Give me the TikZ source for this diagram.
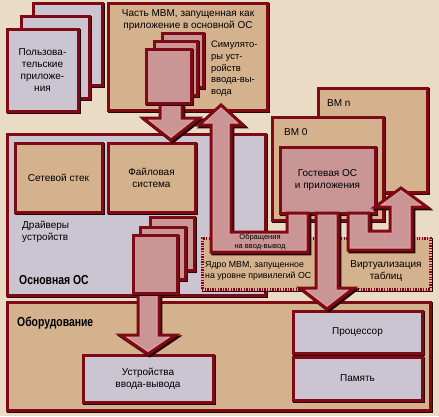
\documentclass[tikz,border=0pt]{standalone}
\usepackage{fontspec}
\setmainfont{Liberation Sans}
\newfontfamily\condb[FakeStretch=0.8]{Liberation Sans Bold}
\usetikzlibrary{shadows}
\definecolor{bgc}{HTML}{EADBC4}
\definecolor{tanc}{HTML}{D5B28E}
\definecolor{lavc}{HTML}{CBC4D1}
\definecolor{pinkf}{HTML}{C99595}
\definecolor{darkr}{HTML}{7D0A14}
\definecolor{pinkl}{HTML}{E8A6A6}
\definecolor{shadowc}{HTML}{2A0505}
\tikzset{
  shd/.style={drop shadow={shadow xshift=1.8pt, shadow yshift=-1.8pt, fill=shadowc, draw=shadowc, line width=3pt, opacity=1}},
  bx/.style={draw=darkr, line width=3pt, inner sep=0pt, outer sep=0pt, anchor=north west, align=center,
    font=\fontsize{10}{12}\selectfont, shd,
    append after command={[draw=pinkl, line width=0.8pt]
      ([shift={(1.9pt,1.9pt)}]\tikzlastnode.south west) rectangle ([shift={(-1.9pt,-1.9pt)}]\tikzlastnode.north east)}},
  kb/.style={draw=pinkl, line width=3pt, fill=tanc, inner sep=0pt, outer sep=0pt, anchor=north west, shd,
    postaction={draw=darkr, line width=3pt, dash pattern=on 1.3pt off 1.3pt}},
  txt/.style={inner sep=0pt, font=\fontsize{10}{12}\selectfont, align=center},
  smalltxt/.style={inner sep=0pt, font=\fontsize{7.5}{8.6}\selectfont, align=center},
  boldtxt/.style={inner sep=0pt, font=\fontsize{13}{14}\condb, anchor=west},
}
\newcommand\bxat[7]{\node[bx, fill=#6, minimum width={(#4-#2)*1pt}, minimum height={(#5-#3)*1pt}] (#1) at (#2,#3) {#7};}
\newcommand\blockarr[1]{%
  \filldraw[shadowc, line width=3pt, line join=miter, xshift=1.8pt, yshift=-1.8pt] #1;
  \fill[pinkf] #1;
  \begin{scope}\clip #1; \draw[pinkl, line width=4.8pt, line join=miter] #1;\end{scope}
  \draw[darkr, line width=3pt, line join=miter] #1;}
\begin{document}
\begin{tikzpicture}[x=1pt, y=-1pt]
\fill[bgc] (0,0) rectangle (439,416);
\useasboundingbox (0,0) rectangle (439,416);
% user applications stack
\bxat{ua3}{33}{3}{102}{85}{lavc}{}
\bxat{ua2}{21}{16}{89}{98}{lavc}{}
\bxat{ua1}{7}{29}{78}{111}{lavc}{Пользова-\\тельские\\приложе-\\ния}
% MBM part in host OS
\bxat{mbm}{108}{3}{267}{110}{tanc}{}
\node[txt, anchor=north] (mbmt) at (188,9) {Часть МВМ, запущенная как\\приложение в основной ОС};
\node[txt, anchor=north west, align=left, font=\fontsize{9.4}{11.7}\selectfont] (simt) at (211,41) {Симулято-\\ры уст-\\ройств\\ввода-вы-\\вода};
% host OS
\bxat{host}{7}{134}{265}{295}{lavc}{}
\bxat{net}{15}{143}{102}{212}{tanc}{Сетевой стек}
\bxat{fs}{108}{143}{195}{212}{tanc}{Файловая\\система}
\node[txt, anchor=north west, align=left] (drt) at (22,221) {Драйверы\\устройств};
\node[boldtxt] (hostt) at (19,280) {Основная ОС};
% hardware
\bxat{hw}{7}{302}{430}{410}{tanc}{}
\node[boldtxt] (hwt) at (17,323) {Оборудование};
\bxat{io}{83}{355}{213}{402}{lavc}{Устройства\\ввода-вывода}
\bxat{cpu}{293}{311}{422}{353}{lavc}{Процессор}
\bxat{mem}{293}{357}{422}{400}{lavc}{Память}
% VMs
\bxat{vmn}{318}{88}{427}{192}{tanc}{}
\node[txt, anchor=west] (vmnt) at (327,103) {ВМ n};
\bxat{vm0}{272}{117}{383}{220}{tanc}{}
\node[txt, anchor=west] (vm0t) at (284,132) {ВМ 0};
\bxat{guest}{280}{147}{375}{213}{pinkf}{Гостевая ОС\\и приложения}
% kernel
\node[kb, minimum width=228pt, minimum height=51pt] (kern) at (202,238) {};
\node[txt, anchor=north west, align=left, font=\fontsize{8.8}{11.5}\selectfont] (kernt) at (205,261) {Ядро МВМ, запущенное\\на уровне привилегий ОС};
\node[txt] (virt) at (386,271) {Виртуализация\\таблиц};
% block arrows
\blockarr{(160,102) -- (160,118) -- (143,118) -- (171,140) -- (199,118) -- (182,118) -- (182,102) -- cycle}
\blockarr{(287,213) -- (287,232) -- (231,232) -- (231,125) -- (243,125) -- (221,105) -- (199,125) -- (211,125) -- (211,252) -- (308,252) -- (308,213) -- cycle}
\blockarr{(316,213) -- (316,288) -- (300,288) -- (327,309) -- (354,288) -- (338,288) -- (338,213) -- cycle}
\blockarr{(348,213) -- (348,250) -- (412,250) -- (412,207) -- (427,207) -- (401,188) -- (375,207) -- (390,207) -- (390,231) -- (369,231) -- (369,213) -- cycle}
\blockarr{(138,293) -- (138,335) -- (120,335) -- (148,354) -- (176,335) -- (159,335) -- (159,293) -- cycle}
\node[smalltxt] (iot) at (260,242) {Обращения\\на ввод-вывод};
% emulator stack
\bxat{em3}{162}{33}{203}{87}{pinkf}{}
\bxat{em2}{154}{41}{197}{95}{pinkf}{}
\bxat{em1}{146}{49}{191}{103}{pinkf}{}
% driver stack
\bxat{dr3}{150}{217}{194}{270}{pinkf}{}
\bxat{dr2}{140}{227}{185}{279}{pinkf}{}
\bxat{dr1}{133}{235}{177}{293}{pinkf}{}
\end{tikzpicture}
\end{document}
